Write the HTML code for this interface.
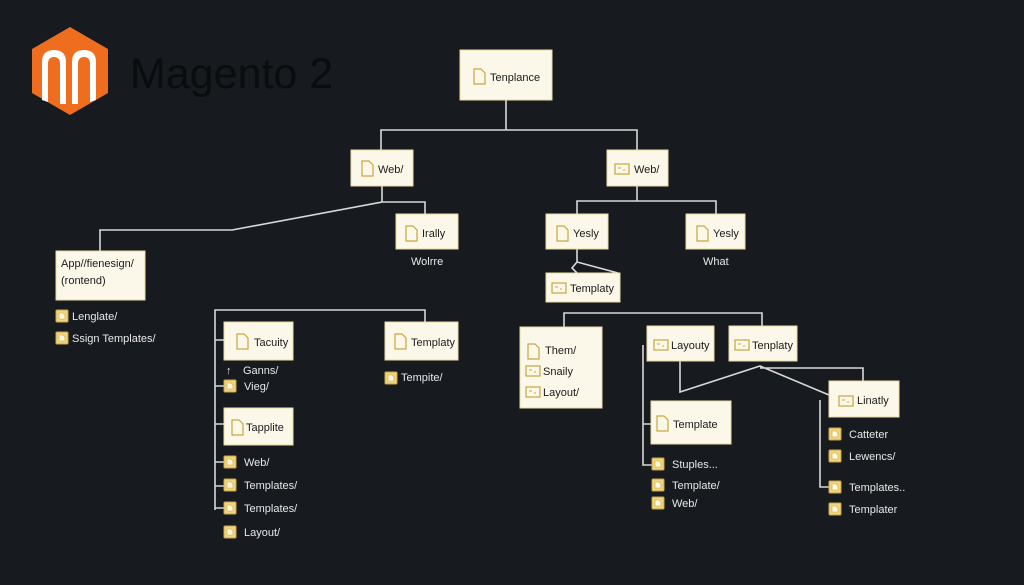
<!DOCTYPE html>
<html><head><meta charset="utf-8"><style>
html,body{margin:0;padding:0;background:#171a1f;}
svg{display:block}
text{font-family:"Liberation Sans",sans-serif;}
.b{fill:#fbf8ea;stroke:#e8dca0;stroke-width:1}
.t{fill:#1a1a1a;font-size:11px}
.w{fill:#e8e8e8;font-size:11px}
.l{stroke:#d8d8d8;stroke-width:1.6;fill:none}
.ic{fill:#f0d584;stroke:#c9a640;stroke-width:1}
.di{fill:none;stroke:#c9a640;stroke-width:1.2}
</style></head><body>
<svg width="1024" height="585" viewBox="0 0 1024 585" xmlns="http://www.w3.org/2000/svg">
<defs>
<g id="doc"><path class="di" d="M0 0h7l4 4v11h-11z"/></g>
<g id="fic"><rect class="ic" x="0" y="0" width="12" height="12" rx="1"/><path d="M3 3h4l2 2v4h-6z" fill="#fff8de" stroke="#c9a640" stroke-width=".6"/></g>
<g id="mic"><rect x="0" y="0" width="14" height="10" fill="none" stroke="#c9a640" stroke-width="1.2"/><path d="M3 4h3M8 6h2" stroke="#c9a640"/></g>
</defs>
<rect width="1024" height="585" fill="#171a1f"/>
<!-- logo -->
<polygon points="70,27 108,49 108,93 70,115 32,93 32,49" fill="#ee6d1f"/>
<path d="M42 100V62Q42 50 54 50Q66 50 66 62V104h-6V64Q60 57 54 57Q48 57 48 64V102z" fill="#fff"/>
<path d="M72 104V62Q72 50 84 50Q96 50 96 62V100l-6 2V64Q90 57 84 57Q78 57 78 64V104z" fill="#fff"/>
<text x="130" y="88" font-size="43" fill="#0a0c0e">Magento 2</text>
<!-- connectors -->
<path class="l" d="M506 100V130M381 150V130H637V150"/>
<path class="l" d="M382 186V202H425V214M382 202L232 230H100V251"/>
<path class="l" d="M637 186V201H577V214M637 201H716V214"/>
<path class="l" d="M577 249V262L572 268L577 273M577 262L618 273"/>
<path class="l" d="M215 510V310H425V322M215 340H224M215 386H224M215 424H224M215 462H224M215 486H224M215 508H224"/>
<path class="l" d="M564 327V313H762V326M643 345V465H652M643 424H651M680 361V392L760 366L829 395M760 368H863V381M820 400V487H829"/>
<!-- boxes -->
<rect class="b" x="460" y="50" width="92" height="50"/><use href="#doc" x="474" y="69"/><text class="t" x="490" y="81">Tenplance</text>
<rect class="b" x="351" y="150" width="62" height="36"/><use href="#doc" x="362" y="161"/><text class="t" x="378" y="173">Web/</text>
<rect class="b" x="607" y="150" width="61" height="36"/><use href="#mic" x="615" y="164"/><text class="t" x="634" y="173">Web/</text>
<rect class="b" x="396" y="214" width="62" height="35"/><use href="#doc" x="406" y="226"/><text class="t" x="422" y="237">Irally</text>
<text class="w" x="411" y="265">Wolrre</text>
<rect class="b" x="56" y="251" width="89" height="49"/><text class="t" x="61" y="267">App//fienesign/</text><text class="t" x="61" y="284">(rontend)</text>
<use href="#fic" x="56" y="310"/><text class="w" x="72" y="320">Lenglate/</text>
<use href="#fic" x="56" y="332"/><text class="w" x="72" y="342">Ssign Templates/</text>
<rect class="b" x="546" y="214" width="62" height="35"/><use href="#doc" x="557" y="226"/><text class="t" x="573" y="237">Yesly</text>
<rect class="b" x="686" y="214" width="59" height="35"/><use href="#doc" x="697" y="226"/><text class="t" x="713" y="237">Yesly</text>
<text class="w" x="703" y="265">What</text>
<rect class="b" x="546" y="273" width="74" height="29"/><use href="#mic" x="552" y="283"/><text class="t" x="570" y="292">Templaty</text>
<rect class="b" x="224" y="322" width="69" height="38"/><use href="#doc" x="237" y="334"/><text class="t" x="254" y="346">Tacuity</text>
<rect class="b" x="385" y="322" width="73" height="38"/><use href="#doc" x="395" y="334"/><text class="t" x="411" y="346">Templaty</text>
<use href="#fic" x="385" y="372"/><text class="w" x="401" y="381">Tempite/</text>
<text class="w" x="226" y="374">↑</text><text class="w" x="243" y="374">Ganns/</text>
<use href="#fic" x="224" y="380"/><text class="w" x="244" y="390">Vieg/</text>
<rect class="b" x="224" y="408" width="69" height="37"/><use href="#doc" x="232" y="420"/><text class="t" x="246" y="431">Tapplite</text>
<use href="#fic" x="224" y="456"/><text class="w" x="244" y="466">Web/</text>
<use href="#fic" x="224" y="479"/><text class="w" x="244" y="489">Templates/</text>
<use href="#fic" x="224" y="502"/><text class="w" x="244" y="512">Templates/</text>
<use href="#fic" x="224" y="526"/><text class="w" x="244" y="536">Layout/</text>
<rect class="b" x="520" y="327" width="82" height="81"/>
<use href="#doc" x="528" y="344"/><text class="t" x="545" y="354">Them/</text>
<use href="#mic" x="526" y="366"/><text class="t" x="543" y="375">Snaily</text>
<use href="#mic" x="526" y="387"/><text class="t" x="543" y="396">Layout/</text>
<rect class="b" x="647" y="326" width="67" height="35"/><use href="#mic" x="654" y="340"/><text class="t" x="671" y="349">Layouty</text>
<rect class="b" x="729" y="326" width="68" height="35"/><use href="#mic" x="735" y="340"/><text class="t" x="752" y="349">Tenplaty</text>
<rect class="b" x="651" y="401" width="80" height="43"/><use href="#doc" x="657" y="416"/><text class="t" x="673" y="428">Template</text>
<rect class="b" x="829" y="381" width="70" height="36"/><use href="#mic" x="839" y="396"/><text class="t" x="857" y="404">Linatly</text>
<use href="#fic" x="652" y="458"/><text class="w" x="672" y="468">Stuples...</text>
<use href="#fic" x="652" y="479"/><text class="w" x="672" y="489">Template/</text>
<use href="#fic" x="652" y="497"/><text class="w" x="672" y="507">Web/</text>
<use href="#fic" x="829" y="428"/><text class="w" x="849" y="438">Catteter</text>
<use href="#fic" x="829" y="450"/><text class="w" x="849" y="460">Lewencs/</text>
<use href="#fic" x="829" y="481"/><text class="w" x="849" y="491">Templates..</text>
<use href="#fic" x="829" y="503"/><text class="w" x="849" y="513">Templater</text>
</svg>
</body></html>
